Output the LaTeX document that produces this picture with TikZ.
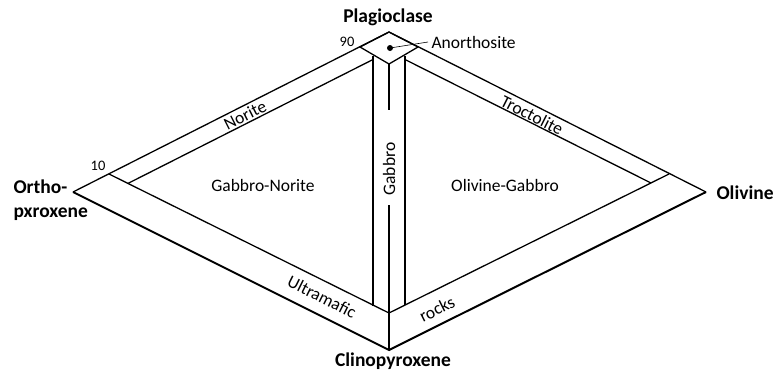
\documentclass[tikz,border=0pt]{standalone}
\usepackage{fontspec}
\setmainfont{Carlito}
\usepackage{tikz}
\usetikzlibrary{positioning}

\begin{document}
\begin{tikzpicture}[x=1pt, y=-1pt,
  thinline/.style={line width=1.3pt},
  thickline/.style={line width=2pt},
  corner/.style={font=\fontsize{19.5}{24}\selectfont\bfseries},
  field/.style={font=\fontsize{17.5}{20}\selectfont},
  tick/.style={font=\fontsize{14.5}{16}\selectfont}]
\useasboundingbox (0,0) rectangle (774,373);
% Corners
\coordinate (plag) at (389,32);
\coordinate (opx) at (73,192);
\coordinate (ol) at (706,192);
\coordinate (cpx) at (389,350);
% Anorthosite cap
\coordinate (capl) at (360,47);
\coordinate (capr) at (418,47);
\coordinate (capb) at (389,64);
% Ultramafic line (10)
\coordinate (uml) at (109,174);
\coordinate (umr) at (669,174);
\coordinate (umc) at (389,313);
% Gabbro strip
\coordinate (gbl0) at (373,55.5);
\coordinate (gbl1) at (373,305.5);
\coordinate (gbr0) at (405,55.5);
\coordinate (gbr1) at (405,305);
\coordinate (gbc0) at (389,110);
\coordinate (gbc1) at (389,205);
% Norite / Troctolite lines
\coordinate (nor0) at (128,183.4);
\coordinate (nor1) at (373,59.5);
\coordinate (tro0) at (651,183);
\coordinate (tro1) at (405,59.5);
% Outline
\draw[thinline] (opx) -- (plag) -- (ol);
\draw[thickline] (opx) -- (cpx) -- (ol);
\draw[thinline] (capl) -- (plag) -- (capr) -- (capb) -- cycle;
\draw[thinline] (uml) -- (umc) -- (umr);
\draw[thinline] (nor0) -- (nor1);
\draw[thinline] (tro0) -- (tro1);
\draw[thinline] (gbl0) -- (gbl1);
\draw[thinline] (gbr0) -- (gbr1);
\draw[thinline] (capb) -- (gbc0);
\draw[thinline] (gbc1) -- (cpx);
% Corner labels
\node[corner] (plaglbl) at (388,17) {Plagioclase};
\node[corner] (cpxlbl) at (393,361) {Clinopyroxene};
\node[corner, anchor=west] (ollbl) at (713,193) {Olivine};
\node[corner, anchor=west, align=left] (opxlbl) at (10,200) {Ortho-\\pxroxene};
\node[tick] (t90) at (347,42) {90};
\node[tick] (t10) at (98,166) {10};
% Anorthosite
\fill (390,48) circle (3);
\node[field, anchor=west] (anlbl) at (428,42) {Anorthosite};
\draw[line width=0.6pt] (390,48) -- (anlbl.west);
% Fields
\node[field] (gnlbl) at (263,185) {Gabbro-Norite};
\node[field] (oglbl) at (505,185) {Olivine-Gabbro};
\node[field, rotate=90] (gblbl) at (389,169) {Gabbro};
\node[field, rotate=26.8] (norlbl) at (245,115) {Norite};
\node[field, rotate=-26.8] (trolbl) at (532,115) {Troctolite};
\node[field, rotate=-26.6] (umlbl) at (322,297) {Ultramafic};
\node[field, rotate=26.6] (rklbl) at (437,309) {rocks};
\end{tikzpicture}
\end{document}
